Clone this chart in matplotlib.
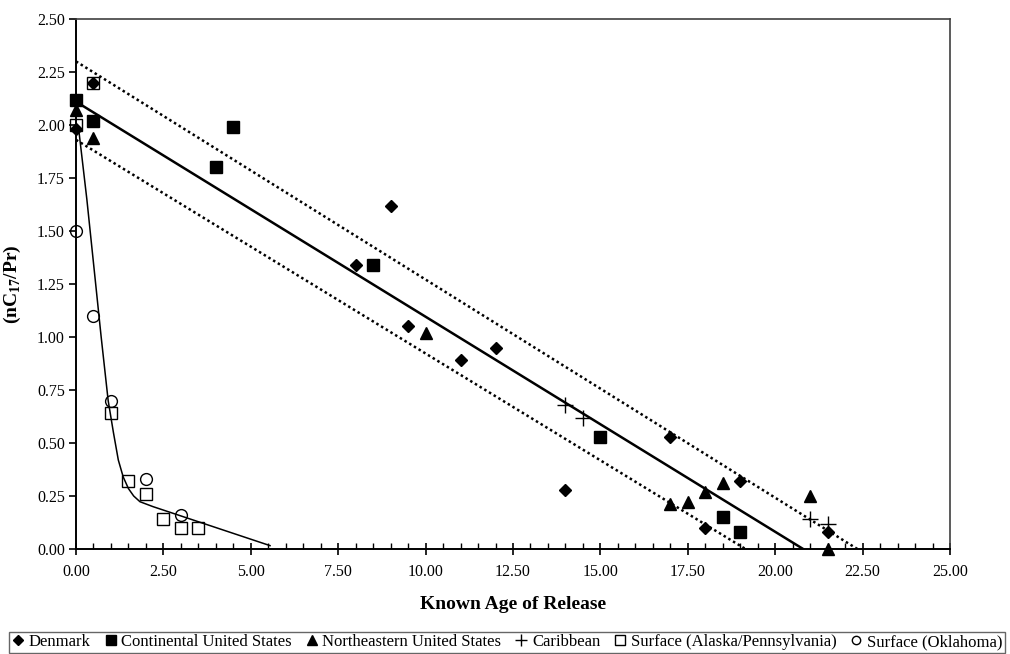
import matplotlib
matplotlib.use("Agg")
import matplotlib.pyplot as plt
from matplotlib.ticker import MultipleLocator, FormatStrFormatter
from matplotlib.lines import Line2D

plt.rcParams['font.family'] = ['Liberation Serif', 'DejaVu Serif']
plt.rcParams['mathtext.fontset'] = 'custom'
plt.rcParams['mathtext.rm'] = 'Liberation Serif:bold'
plt.rcParams['mathtext.bf'] = 'Liberation Serif:bold'

# ------------------------------
# data
# ------------------------------
denmark_x = [0.0, 0.5, 8.0, 9.0, 9.5, 11.0, 12.0, 14.0, 17.0, 18.0, 19.0, 21.5]
denmark_y = [1.98, 2.20, 1.34, 1.62, 1.05, 0.89, 0.95, 0.28, 0.53, 0.10, 0.32, 0.08]

conus_x = [0.0, 0.5, 4.0, 4.5, 8.5, 15.0, 18.5, 19.0]
conus_y = [2.12, 2.02, 1.80, 1.99, 1.34, 0.53, 0.15, 0.08]

neus_x = [0.0, 0.5, 10.0, 17.0, 17.5, 18.0, 18.5, 21.0, 21.5]
neus_y = [2.07, 1.94, 1.02, 0.21, 0.22, 0.27, 0.31, 0.25, 0.0]

carib_x = [14.0, 14.5, 21.0, 21.5]
carib_y = [0.68, 0.62, 0.14, 0.12]

alaska_x = [0.0, 0.5, 1.0, 1.5, 2.0, 2.5, 3.0, 3.5]
alaska_y = [2.00, 2.20, 0.64, 0.32, 0.26, 0.14, 0.10, 0.10]

oklahoma_x = [0.0, 0.5, 1.0, 2.0, 3.0]
oklahoma_y = [1.50, 1.10, 0.70, 0.33, 0.16]

# regression line and bounds (end points)
fit_x = [0.0, 20.8]
fit_y = [2.11, 0.0]
upper_x = [0.0, 22.35]
upper_y = [2.30, 0.0]
lower_x = [0.0, 19.15]
lower_y = [1.93, 0.0]

# surface weathering curve
curve_x = [0.07, 0.31, 0.55, 0.72, 0.92, 1.07, 1.21, 1.35, 1.5, 1.65, 1.83, 2.2, 5.55]
curve_y = [1.99, 1.65, 1.27, 1.00, 0.70, 0.55, 0.42, 0.34, 0.285, 0.25, 0.223, 0.20, 0.016]

fig = plt.figure(figsize=(10.1, 6.54), dpi=100)
ax = fig.add_axes([76 / 1010, 1 - 549 / 654, (950 - 76) / 1010, (549 - 19) / 654])

ax.plot(fit_x, fit_y, color='black', lw=1.8, zorder=2)
ax.plot(upper_x, upper_y, color='black', lw=1.8, ls=(0, (1, 1.2)), zorder=2)
ax.plot(lower_x, lower_y, color='black', lw=1.8, ls=(0, (1, 1.2)), zorder=2)
ax.plot(curve_x, curve_y, color='black', lw=1.1, zorder=2)

ms = 8.5
kw = dict(ls='none', clip_on=False)
ax.plot(alaska_x, alaska_y, 's', ms=ms, mfc='none', mec='black', mew=1.0, zorder=3, **kw)
ax.plot(oklahoma_x, oklahoma_y, 'o', ms=ms, mfc='none', mec='black', mew=1.0, zorder=3, **kw)
ax.plot(conus_x, conus_y, 's', ms=ms, color='black', zorder=3, **kw)
ax.plot(neus_x, neus_y, '^', ms=ms + 0.5, color='black', zorder=3, **kw)
ax.plot(denmark_x, denmark_y, 'D', ms=ms - 2, color='black', zorder=4, **kw)
ax.plot(carib_x, carib_y, '+', ms=ms + 3, color='black', mew=1.0, zorder=3, **kw)

ax.set_xlim(0, 25)
ax.set_ylim(0, 2.5)
ax.xaxis.set_major_locator(MultipleLocator(2.5))
ax.xaxis.set_minor_locator(MultipleLocator(0.5))
ax.yaxis.set_major_locator(MultipleLocator(0.25))
ax.xaxis.set_major_formatter(FormatStrFormatter('%.2f'))
ax.yaxis.set_major_formatter(FormatStrFormatter('%.2f'))
ax.tick_params(axis='x', which='major', direction='inout', length=9, width=1.2, labelsize=11.5, pad=6)
ax.tick_params(axis='x', which='minor', direction='in', length=4, width=1.0)
ax.tick_params(axis='y', which='major', direction='out', length=5, width=1.2, labelsize=11.5, pad=3)

for side in ['left', 'bottom']:
    ax.spines[side].set_color('black')
    ax.spines[side].set_linewidth(1.4)
for side in ['top', 'right']:
    ax.spines[side].set_color('#404040')
    ax.spines[side].set_linewidth(1.2)

ax.set_xlabel('Known Age of Release', fontsize=14, fontweight='bold', labelpad=12)
ax.set_ylabel(r'(nC$_{17}$/Pr)', fontsize=14, fontweight='bold', labelpad=10)

handles = [
    Line2D([], [], marker='D', ms=5.5, color='black', ls='none'),
    Line2D([], [], marker='s', ms=7, color='black', ls='none'),
    Line2D([], [], marker='^', ms=7.5, color='black', ls='none'),
    Line2D([], [], marker='+', ms=9, color='black', mew=1.0, ls='none'),
    Line2D([], [], marker='s', ms=7, mfc='none', mec='black', ls='none'),
    Line2D([], [], marker='o', ms=6, mfc='none', mec='black', ls='none'),
]
labels = ['Denmark', 'Continental United States', 'Northeastern United States',
          'Caribbean', 'Surface (Alaska/Pennsylvania)', 'Surface (Oklahoma)']
leg = fig.legend(handles, labels, loc='center', bbox_to_anchor=(507 / 1010, 1 - 642 / 654),
                 ncol=6, fontsize=12, frameon=True, fancybox=False, edgecolor='#404040',
                 handlelength=0.8, handletextpad=0.25, columnspacing=0.78,
                 borderpad=0.15, borderaxespad=0)
leg.get_frame().set_linewidth(1.0)

fig.savefig('out.png', dpi=100)
